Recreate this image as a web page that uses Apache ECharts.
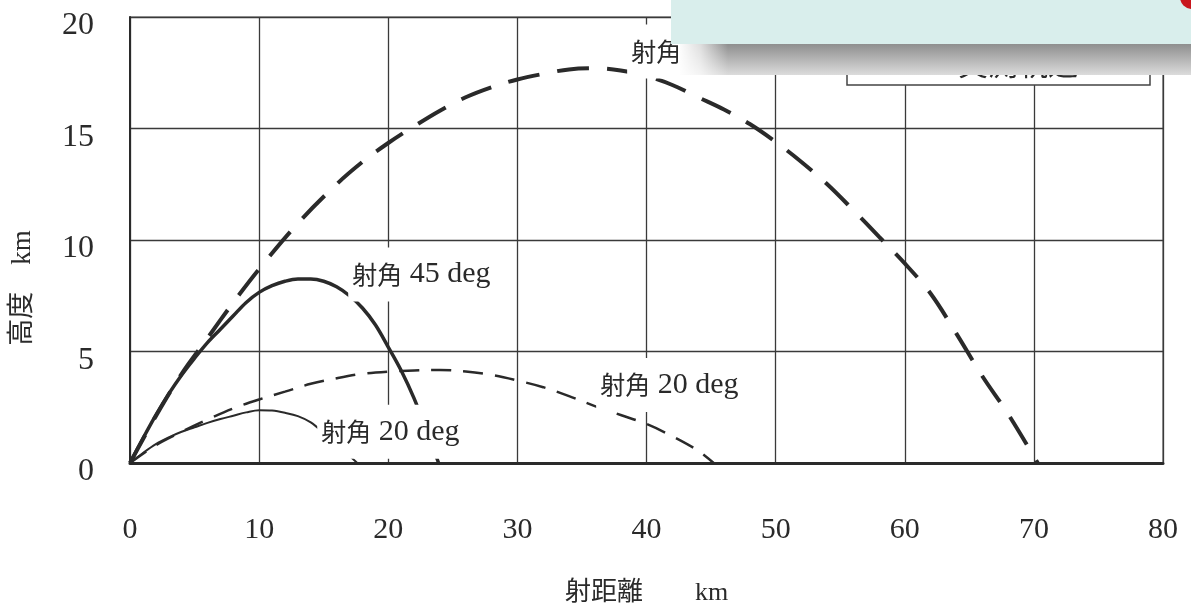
<!DOCTYPE html>
<html>
<head>
<meta charset="utf-8">
<script src="https://cdn.jsdelivr.net/npm/echarts@6/dist/echarts.min.js"></script>
<style>
  html, body { margin: 0; background: #fff; }
  #main { width: 1191px; height: 608px; }
</style>
</head>
<body>
<div id="main"></div>
<script>
// 射距離 km / 高度 km
const bigDashX = [0, 2, 4, 6, 8, 10, 13, 16, 18, 20, 22, 24, 26, 28, 30, 32, 34, 36, 38, 40, 42, 44, 46, 48, 50, 52, 54, 56, 58, 60, 62, 64, 66, 68, 70.3];
const bigDashY = [0, 2.1, 4.0, 5.6, 7.2, 8.7, 10.75, 12.5, 13.5, 14.35, 15.1, 15.8, 16.4, 16.85, 17.2, 17.45, 17.65, 17.7, 17.6, 17.35, 16.95, 16.4, 15.85, 15.2, 14.4, 13.5, 12.5, 11.35, 10.15, 8.95, 7.6, 5.8, 3.9, 2.2, 0];

const solid45X = [0, 1, 2, 3, 4, 5, 6, 7, 8, 9, 10, 11, 12, 13, 14, 15, 16, 17, 18, 19, 20, 21, 22, 23, 23.9];
const solid45Y = [0, 1.1, 2.15, 3.1, 3.95, 4.7, 5.4, 6.0, 6.6, 7.2, 7.65, 7.95, 8.15, 8.25, 8.25, 8.15, 7.9, 7.5, 6.95, 6.2, 5.2, 4.15, 2.9, 1.4, 0];

const dash20X = [0, 2, 4, 6, 8, 10, 12, 14, 16, 18, 20, 22, 24, 26, 28, 30, 32, 34, 36, 38, 40, 42, 44, 45.2];
const dash20Y = [0, 0.8, 1.4, 1.95, 2.45, 2.85, 3.2, 3.55, 3.8, 4.0, 4.1, 4.15, 4.17, 4.1, 3.95, 3.7, 3.4, 3.0, 2.55, 2.15, 1.75, 1.2, 0.55, 0];

const solid20X = [0, 1, 2, 3, 4, 5, 6, 7, 8, 9, 10, 11, 12, 13, 14, 15, 16, 17, 17.6];
const solid20Y = [0, 0.45, 0.85, 1.15, 1.4, 1.6, 1.8, 1.97, 2.12, 2.27, 2.37, 2.35, 2.25, 2.1, 1.82, 1.35, 0.85, 0.33, 0];

const xTicks = [0, 10, 20, 30, 40, 50, 60, 70, 80];
const yTicks = [0, 5, 10, 15, 20];

// curve labels: angle text and the data point where the text starts
const curveLabels = [
  { angle: '45 deg', at: [16.9, 8.45] },
  { angle: '20 deg', at: [36.1, 3.5] },
  { angle: '20 deg', at: [14.5, 1.4] },
  { angle: '45 deg', at: [38.5, 18.45] }
];

const zip = (xs, ys) => xs.map((x, i) => [x, ys[i]]);

const serif = "'Liberation Serif', 'Noto Sans CJK JP', serif";
const cjk = "'Noto Sans CJK JP', serif";
const ink = '#2a2a2a';

const chart = echarts.init(document.getElementById('main'));

function lineSeries(name, xs, ys, width, type) {
  return {
    name: name,
    type: 'line',
    data: zip(xs, ys),
    smooth: 0.35,
    symbol: 'none',
    lineStyle: { color: ink, width: width, type: type, cap: 'butt' },
    z: 3
  };
}

chart.setOption({
  backgroundColor: '#fff',
  animation: false,
  grid: { left: 130, right: 28, top: 17, bottom: 145, show: true, borderColor: '#555', borderWidth: 1.2,
    outerBoundsMode: 'none', containLabel: false },
  xAxis: {
    type: 'value', min: 0, max: 80, interval: 10,
    name: '射距離　　km', nameLocation: 'middle', nameGap: 117,
    nameTextStyle: { fontFamily: serif, fontSize: 26, color: ink },
    axisLine: { lineStyle: { color: ink, width: 3 } },
    axisTick: { show: false },
    axisLabel: { margin: 52, fontFamily: serif, fontSize: 30, color: ink,
      formatter: v => xTicks.includes(v) ? String(v) : '' },
    splitLine: { lineStyle: { color: '#3a3a3a', width: 1.3 } }
  },
  yAxis: {
    type: 'value', min: 0, max: 20, interval: 5,
    name: '高度　km', nameLocation: 'middle', nameGap: 94, nameRotate: 90,
    nameTextStyle: { fontFamily: serif, fontSize: 27, color: ink, padding: [0, 96, 0, 0] },
    axisLine: { lineStyle: { color: ink, width: 2 } },
    axisTick: { show: false },
    axisLabel: { margin: 36, fontFamily: serif, fontSize: 32, color: ink,
      verticalAlign: 'top', lineHeight: 18,
      formatter: v => yTicks.includes(v) ? String(v) : '' },
    splitLine: { lineStyle: { color: '#3a3a3a', width: 1.3 } }
  },
  series: [
    lineSeries('bigDash', bigDashX, bigDashY, 4, [32, 18]),
    lineSeries('solid45', solid45X, solid45Y, 3.5, 'solid'),
    lineSeries('dash20', dash20X, dash20Y, 2.5, [20, 12]),
    lineSeries('solid20', solid20X, solid20Y, 2, 'solid')
  ]
});

// labels and the pasted-over note box on top of the scan
const labelEls = curveLabels.map(l => {
  const p = chart.convertToPixel({ gridIndex: 0 }, l.at);
  return {
    type: 'text', x: p[0], y: p[1], z: 10,
    style: {
      text: '{a|射角}{b| ' + l.angle + '}',
      rich: {
        a: { fontFamily: cjk, fontSize: 25, fill: ink, color: ink },
        b: { fontFamily: serif, fontSize: 30, fill: ink, color: ink }
      },
      align: 'left', verticalAlign: 'middle',
      backgroundColor: '#fff', padding: [12, 4]
    }
  };
});

chart.setOption({
  graphic: labelEls.concat([
    // legend box, mostly hidden
    { type: 'rect', z: 11, shape: { x: 847, y: 36, width: 303, height: 49 },
      style: { fill: '#fff', stroke: '#444', lineWidth: 1.5 } },
    { type: 'text', z: 12, x: 958, y: 64,
      style: { text: '実測軌道', fontFamily: cjk, fontSize: 30, fill: ink, verticalAlign: 'middle', align: 'left' } },
    // shadow under the pasted box
    { type: 'rect', z: 20, shape: { x: 680, y: 43, width: 511, height: 32 },
      style: { fill: new echarts.graphic.LinearGradient(0, 0, 0, 1, [
        { offset: 0, color: '#8c8c8c' }, { offset: 0.5, color: '#b4b4b4' }, { offset: 1, color: '#dcdcdc' }]) } },
    { type: 'rect', z: 21, shape: { x: 678, y: 43, width: 50, height: 32 },
      style: { fill: new echarts.graphic.LinearGradient(0, 0, 1, 0, [
        { offset: 0, color: 'rgba(255,255,255,1)' }, { offset: 0.45, color: 'rgba(255,255,255,0.7)' }, { offset: 1, color: 'rgba(255,255,255,0)' }]) } },
    // pasted box
    { type: 'rect', z: 22, shape: { x: 671, y: 0, width: 520, height: 44 },
      style: { fill: '#d9eeec' } },
    { type: 'circle', z: 23, shape: { cx: 1192, cy: -3, r: 12 },
      style: { fill: '#c8161d' } }
  ])
});
</script>
</body>
</html>
